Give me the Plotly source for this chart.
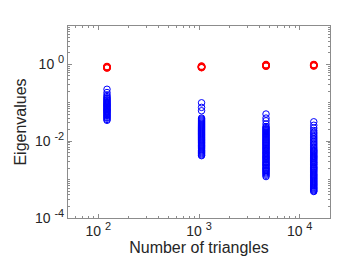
import plotly.graph_objects as go

# Number of triangles for each mesh
n_triangles = [122, 1060, 4630, 13800]

# Large (red) eigenvalues per mesh
red_vals = [
    [0.88, 0.86, 0.84, 0.82, 0.81],
    [0.90, 0.88, 0.86, 0.84, 0.83],
    [0.98, 0.96, 0.94, 0.92, 0.90],
    [0.99, 0.97, 0.95, 0.93, 0.91],
]

# Small (blue) eigenvalues per mesh
blue_vals = [
    [0.225, 0.185, 0.16, 0.145, 0.135, 0.127, 0.12, 0.113, 0.107, 0.101,
     0.096, 0.091, 0.087, 0.083, 0.079, 0.075, 0.071, 0.068, 0.065, 0.062,
     0.059, 0.056, 0.053, 0.05, 0.047, 0.045, 0.042, 0.04, 0.037, 0.035],
    [0.10, 0.076, 0.062,
     0.040, 0.0378, 0.0357, 0.0337, 0.0318, 0.030, 0.0283, 0.0267, 0.0252, 0.0238,
     0.0225, 0.0212, 0.020, 0.0189, 0.0178, 0.0168, 0.0159, 0.015, 0.0142, 0.0134,
     0.0126, 0.0119, 0.0112, 0.0106, 0.010, 0.0094, 0.0089, 0.0084, 0.0079, 0.0075,
     0.0071, 0.0067, 0.0063, 0.0059, 0.0056, 0.0053, 0.005, 0.0047, 0.0044, 0.0042],
    [0.051, 0.040, 0.034, 0.028,
     0.024, 0.0227, 0.0214, 0.0202, 0.0191, 0.018, 0.017, 0.016, 0.0151, 0.0143,
     0.0135, 0.0127, 0.012, 0.0113, 0.0107, 0.0101, 0.0095, 0.009, 0.0085, 0.008,
     0.0076, 0.0071, 0.0067, 0.0064, 0.006, 0.0057, 0.0053, 0.005, 0.0048, 0.0045,
     0.0042, 0.004, 0.0038, 0.0036, 0.0034, 0.0032, 0.003, 0.0028, 0.0027, 0.0025,
     0.0024, 0.0023, 0.0021, 0.002, 0.0019, 0.0018, 0.0017, 0.0016, 0.0015, 0.0014,
     0.0013, 0.0012],
    [0.032, 0.026, 0.022, 0.019, 0.017, 0.0155, 0.014, 0.0128, 0.0117, 0.0107,
     0.0098, 0.009, 0.0083, 0.0076, 0.007, 0.0065, 0.006, 0.0057, 0.0054, 0.0051,
     0.0048, 0.0045, 0.0042, 0.004, 0.0038, 0.0036, 0.0034, 0.0032, 0.003, 0.0028,
     0.0027, 0.0025, 0.0024, 0.0022, 0.0021, 0.002, 0.0019, 0.0018, 0.0017, 0.0016,
     0.0015, 0.0014, 0.00133, 0.00126, 0.00119, 0.00112, 0.00106, 0.001, 0.00094,
     0.00089, 0.00084, 0.00079, 0.00075, 0.00071, 0.00067, 0.00063, 0.0006, 0.00057,
     0.00054, 0.00051, 0.00049],
]

x_tickvals = [100, 1000, 10000]
x_exponents = ["2", "3", "4"]
y_tickvals = [1e-4, 1e-2, 1]
y_exponents = ["-4", "-2", "0"]

# minor tick positions (2..9 times each power of ten)
x_minor = [m * 10 ** k for k in range(1, 5) for m in range(2, 10)]
y_minor = [m * 10.0 ** k for k in range(-4, 1) for m in range(2, 10)] + [1e-3, 1e-1, 10]


def power_label(exp):
    return "10 <sup><span style='font-size:11px'>" + exp + "</span></sup>"


fig = go.Figure()

for n, vals in zip(n_triangles, blue_vals):
    fig.add_trace(go.Scatter(
        x=[n] * len(vals), y=vals, mode="markers",
        marker=dict(symbol="circle-open", size=6.5, color="#0000ff",
                    line=dict(width=1, color="#0000ff")),
        showlegend=False))

for n, vals in zip(n_triangles, red_vals):
    fig.add_trace(go.Scatter(
        x=[n] * len(vals), y=vals, mode="markers",
        marker=dict(symbol="circle-open", size=6.5, color="#ff0000",
                    line=dict(width=1.3, color="#ff0000")),
        showlegend=False))

axis_common = dict(
    type="log", showgrid=False, zeroline=False,
    showline=True, linecolor="#8c8c8c", linewidth=1, mirror="ticks",
    ticks="inside", ticklen=4, tickcolor="#8c8c8c",
    tickfont=dict(family="Liberation Sans, Arial", size=14, color="#262626"),
)

fig.update_xaxes(**axis_common, range=[1.699, 4.301],
                 tickmode="array",
                 tickvals=x_tickvals, ticktext=[power_label(e) for e in x_exponents],
                 minor=dict(ticks="inside", ticklen=2, tickcolor="#8c8c8c",
                            showgrid=False, tickmode="array", tickvals=x_minor),
                 title=dict(text="Number of triangles", standoff=2,
                            font=dict(family="Liberation Sans, Arial", size=16, color="#262626")))
fig.update_yaxes(**axis_common, range=[-4, 1],
                 tickmode="array",
                 tickvals=y_tickvals, ticktext=[power_label(e) for e in y_exponents],
                 minor=dict(ticks="inside", ticklen=2, tickcolor="#8c8c8c",
                            showgrid=False, tickmode="array", tickvals=y_minor),
                 title=dict(text="Eigenvalues", standoff=4,
                            font=dict(family="Liberation Sans, Arial", size=16, color="#262626")))

fig.update_layout(
    width=357, height=259,
    margin=dict(l=60, r=35, t=18, b=49),
    paper_bgcolor="white", plot_bgcolor="white",
)

fig.write_html("out.html")
